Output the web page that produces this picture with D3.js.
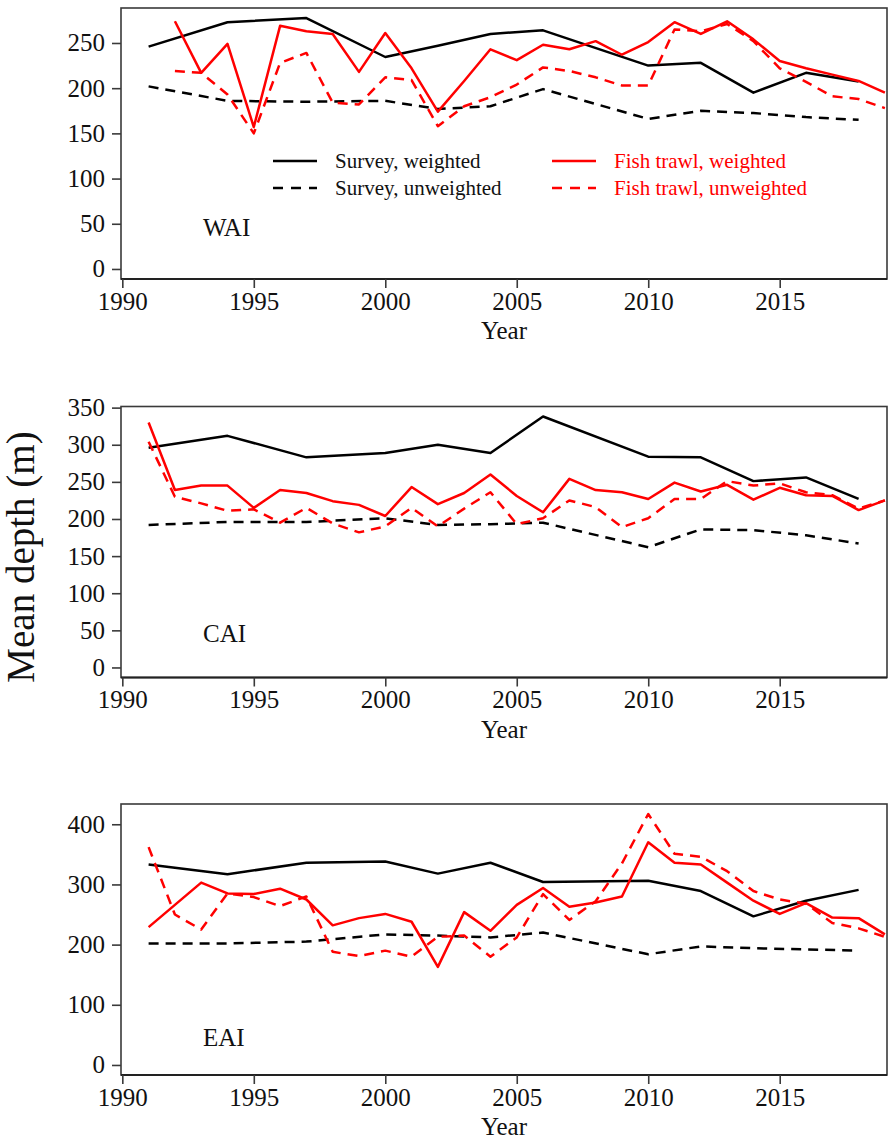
<!DOCTYPE html>
<html>
<head>
<meta charset="utf-8">
<script src="https://cdn.jsdelivr.net/npm/d3@7"></script>
<style>
  html, body { margin: 0; padding: 0; background: #fff; }
  svg text { font-family: "Liberation Serif", "Times New Roman", serif; }
</style>
</head>
<body>
<svg id="chart" width="890" height="1139"></svg>
<script>
// Survey years (bottom-trawl survey) and fishery years
const surveyYears = [1991, 1994, 1997, 2000, 2002, 2004, 2006, 2010, 2012, 2014, 2016, 2018];
const trawlYearsWAI = d3.range(1992, 2020);
const trawlYearsAll = d3.range(1991, 2020);

// Western Aleutian Islands
const wai_surveyWeighted   = [246, 273, 277.6, 234.5, 247, 260, 264, 225, 228, 195, 217, 207.5];
const wai_surveyUnweighted = [202, 186, 185, 186, 177, 180, 199, 166, 175, 172.5, 168, 165];
const wai_trawlWeighted    = [274, 217, 249, 157, 269, 263, 260, 218, 261, 222, 174, 208, 243, 231,
                              248, 243, 252, 237, 251, 273, 260, 274, 254, 230, 222, 215, 208, 195];
const wai_trawlUnweighted  = [219, 217, 193, 150, 228, 239, 184, 182, 212, 209, 158, 180, 190, 204,
                              223, 219, 212, 203, 203, 265, 263, 271, 252, 222, 207, 191, 188, 178];

// Central Aleutian Islands
const cai_surveyWeighted   = [296, 312, 283, 289, 300, 289, 338, 284, 283, 251, 256, 227];
const cai_surveyUnweighted = [192, 196, 196, 201, 192, 193, 195, 162, 186, 185, 178, 167];
const cai_trawlWeighted    = [330, 239, 245, 245, 215, 239, 235, 224, 219, 204, 243, 220, 235, 260, 231,
                              209, 254, 239, 236, 227, 249, 237, 246, 226, 242, 232, 231, 212, 225];
const cai_trawlUnweighted  = [304, 230, 221, 211, 213, 195, 215, 194, 182, 190, 215, 190, 214, 236, 193,
                              201, 225, 216, 189, 201, 227, 227, 251, 245, 248, 236, 232, 214, 225];

// Eastern Aleutian Islands
const eai_surveyWeighted   = [333, 317, 336, 338, 318, 336, 304, 306, 289, 247, 273, 291];
const eai_surveyUnweighted = [202, 202, 205, 217, 215, 212, 220, 184, 197, 194, 192, 190];
const eai_trawlWeighted    = [229, 266, 303, 285, 284, 293, 275, 232, 244, 251, 238, 163, 254, 223, 266,
                              294, 263, 270, 280, 370, 336, 333, 303, 273, 251, 269, 245, 244, 217];
const eai_trawlUnweighted  = [362, 250, 225, 285, 279, 264, 280, 188, 181, 190, 180, 213, 215, 180, 212,
                              284, 241, 272, 335, 417, 351, 346, 322, 289, 275, 268, 236, 227, 213];

// Axis tick values
const xTicks = [1990, 1995, 2000, 2005, 2010, 2015];
const yTicksWAI = [0, 50, 100, 150, 200, 250];
const yTicksCAI = [0, 50, 100, 150, 200, 250, 300, 350];
const yTicksEAI = [0, 100, 200, 300, 400];

const legendLabels = ["Survey, weighted", "Survey, unweighted", "Fish trawl, weighted", "Fish trawl, unweighted"];

const panels = [
  { name: "WAI", trawlYears: trawlYearsWAI, sw: wai_surveyWeighted, su: wai_surveyUnweighted,
    tw: wai_trawlWeighted, tu: wai_trawlUnweighted, yTicks: yTicksWAI, legend: true },
  { name: "CAI", trawlYears: trawlYearsAll, sw: cai_surveyWeighted, su: cai_surveyUnweighted,
    tw: cai_trawlWeighted, tu: cai_trawlUnweighted, yTicks: yTicksCAI, legend: false },
  { name: "EAI", trawlYears: trawlYearsAll, sw: eai_surveyWeighted, su: eai_surveyUnweighted,
    tw: eai_trawlWeighted, tu: eai_trawlUnweighted, yTicks: yTicksEAI, legend: false }
];

const SERIF = '"Liberation Serif", "Times New Roman", serif';
const svg = d3.select("#chart");
const left = 121, right = 887;
const tops = [8, 406.5, 804];
const plotH = 271;
const frameColor = "#3a3a3a";
const DASH = "10,7";

const x = d3.scaleLinear().domain([1989.95, 2019.08]).range([left, right]);

panels.forEach((p, i) => {
  const top = tops[i], bottom = top + plotH;
  const yMax = d3.max([p.sw, p.su, p.tw, p.tu].flat());
  const pad = yMax * 0.04;
  const y = d3.scaleLinear().domain([-pad, yMax + pad]).range([bottom, top]);
  const g = svg.append("g");

  // frame
  g.append("rect")
    .attr("x", left).attr("y", top)
    .attr("width", right - left).attr("height", plotH)
    .attr("fill", "none").attr("stroke", frameColor).attr("stroke-width", 1.6);

  // y axis
  const yAxis = g.append("g")
    .attr("transform", `translate(${left},0)`)
    .call(d3.axisLeft(y).tickValues(p.yTicks).tickSize(9).tickPadding(7).tickFormat(d3.format("d")));
  yAxis.attr("font-family", null);
  yAxis.select(".domain").remove();
  yAxis.selectAll("line").attr("stroke", frameColor).attr("stroke-width", 1.6);
  yAxis.selectAll("text").attr("fill", "#111")
    .style("font-family", SERIF).style("font-size", "25px");

  // x axis
  const xAxis = g.append("g")
    .attr("transform", `translate(0,${bottom})`)
    .call(d3.axisBottom(x).tickValues(xTicks).tickSize(9).tickPadding(4).tickFormat(d3.format("d")));
  xAxis.attr("font-family", null);
  xAxis.select(".domain").attr("stroke", "#222").attr("stroke-width", 2.2)
    .attr("d", `M${left},0H${right}`);
  xAxis.selectAll("line").attr("stroke", frameColor).attr("stroke-width", 1.6);
  xAxis.selectAll("text").attr("fill", "#111")
    .style("font-family", SERIF).style("font-size", "25px");

  g.append("text")
    .attr("x", (left + right) / 2).attr("y", bottom + 60)
    .attr("text-anchor", "middle").attr("fill", "#111")
    .style("font-family", SERIF).style("font-size", "25px")
    .text("Year");

  // region label
  g.append("text")
    .attr("x", 203).attr("y", y(46))
    .attr("dominant-baseline", "central")
    .attr("fill", "#111")
    .style("font-family", SERIF).style("font-size", "25px")
    .text(p.name);

  const line = d3.line().x(d => x(d[0])).y(d => y(d[1]));
  const series = [
    { yrs: surveyYears, v: p.sw, color: "#000", dash: null },
    { yrs: surveyYears, v: p.su, color: "#000", dash: DASH },
    { yrs: p.trawlYears, v: p.tw, color: "#ff0000", dash: null },
    { yrs: p.trawlYears, v: p.tu, color: "#ff0000", dash: DASH }
  ];
  series.forEach(s => {
    g.append("path")
      .datum(d3.zip(s.yrs, s.v))
      .attr("d", line)
      .attr("fill", "none")
      .attr("stroke", s.color)
      .attr("stroke-width", 2.5)
      .attr("stroke-linejoin", "round")
      .attr("stroke-dasharray", s.dash);
  });

  if (p.legend) {
    const items = [
      { lx: 273, ly: 161, color: "#000", dash: null, txt: legendLabels[0] },
      { lx: 273, ly: 188, color: "#000", dash: "10,8", txt: legendLabels[1] },
      { lx: 552, ly: 161, color: "#ff0000", dash: null, txt: legendLabels[2] },
      { lx: 552, ly: 188, color: "#ff0000", dash: "10,8", txt: legendLabels[3] }
    ];
    items.forEach(it => {
      g.append("line")
        .attr("x1", it.lx).attr("x2", it.lx + 44)
        .attr("y1", it.ly).attr("y2", it.ly)
        .attr("stroke", it.color).attr("stroke-width", 2.5)
        .attr("stroke-dasharray", it.dash);
      g.append("text")
        .attr("x", it.lx + 62).attr("y", it.ly + 7)
        .attr("fill", it.color === "#000" ? "#111" : "#ff0000")
        .style("font-family", SERIF).style("font-size", "21px")
        .text(it.txt);
    });
  }
});

// shared y-axis title
svg.append("text")
  .attr("transform", "translate(34,557) rotate(-90)")
  .attr("text-anchor", "middle")
  .attr("fill", "#111")
  .style("font-family", SERIF).style("font-size", "39px")
  .text("Mean depth (m)");
</script>
</body>
</html>
